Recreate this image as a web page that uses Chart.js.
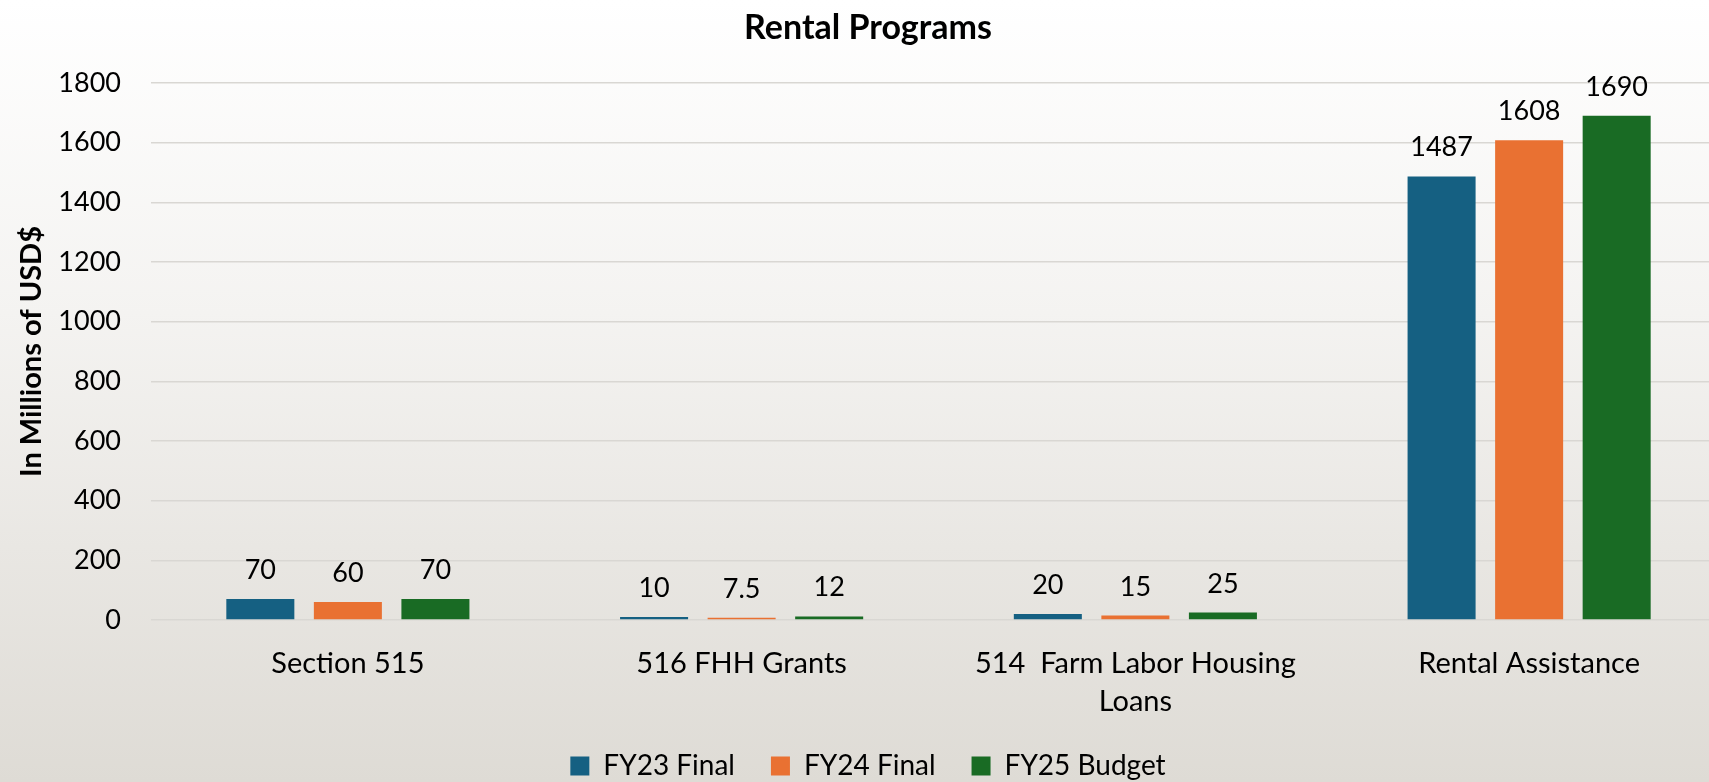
<!DOCTYPE html>
<html>
<head>
<meta charset="utf-8">
<script src="https://cdn.jsdelivr.net/npm/chart.js@4"></script>
<style>
  html, body { margin: 0; padding: 0; }
  body {
    width: 1709px;
    height: 782px;
    overflow: hidden;
    background: linear-gradient(to bottom, #ffffff 0%, #f4f3f1 40%, #dedbd5 100%);
  }
  canvas { display: block; }
</style>
</head>
<body>
<canvas id="myChart" width="1742" height="790"></canvas>
<script>
const categories = ['Section 515', '516 FHH Grants', ['514  Farm Labor Housing', 'Loans'], 'Rental Assistance'];
const fy23Final = [70, 10, 20, 1487];
const fy24Final = [60, 7.5, 15, 1608];
const fy25Budget = [70, 12, 25, 1690];
const yTicks = [0, 200, 400, 600, 800, 1000, 1200, 1400, 1600, 1800];

const FONT = 'Lato';

// value labels above each bar
const valueLabels = {
    id: 'valueLabels',
    afterDatasetsDraw(chart) {
        const ctx = chart.ctx;
        ctx.save();
        ctx.font = '27px ' + FONT;
        ctx.fillStyle = '#000';
        ctx.textAlign = 'center';
        ctx.textBaseline = 'alphabetic';
        chart.data.datasets.forEach((ds, i) => {
            chart.getDatasetMeta(i).data.forEach((bar, j) => {
                ctx.fillText(String(ds.data[j]), bar.x, bar.y - 20);
            });
        });
        ctx.restore();
    }
};

new Chart(document.getElementById('myChart'), {
    type: 'bar',
    data: {
        labels: categories,
        datasets: [
            { label: 'FY23 Final', data: fy23Final, backgroundColor: '#156082' },
            { label: 'FY24 Final', data: fy24Final, backgroundColor: '#E97132' },
            { label: 'FY25 Budget', data: fy25Budget, backgroundColor: '#196B24' }
        ]
    },
    options: {
        responsive: false,
        animation: false,
        devicePixelRatio: 1,
        categoryPercentage: 0.667,
        barPercentage: 0.777,
        layout: { padding: { left: 10, right: 16, top: 0, bottom: 0 } },
        scales: {
            x: {
                afterFit(scale) {
                    scale.height = 96;
                },
                grid: { display: false },
                border: { display: false },
                ticks: {
                    color: '#000',
                    padding: 17,
                    maxRotation: 0,
                    autoSkip: false,
                    font: { family: FONT, size: 29, lineHeight: 1.31 }
                }
            },
            y: {
                min: 0,
                max: 1800,
                afterBuildTicks(scale) {
                    scale.ticks = yTicks.map(v => ({ value: v }));
                },
                afterFit(scale) {
                    scale.width = 141;
                },
                grid: { color: '#d9d7d3', lineWidth: 1.5, drawTicks: false },
                border: { display: false },
                ticks: {
                    color: '#000',
                    padding: 30,
                    callback: v => String(v),
                    font: { family: FONT, size: 27 }
                },
                title: {
                    display: true,
                    text: 'In Millions of USD$',
                    color: '#000',
                    padding: { top: 4, bottom: 4 },
                    font: { family: FONT, size: 29, weight: 'bold' }
                }
            }
        },
        plugins: {
            title: {
                display: true,
                text: 'Rental Programs',
                color: '#000',
                padding: { top: 7.4, bottom: 34.8 },
                font: { family: FONT, size: 34, weight: 'bold' }
            },
            legend: {
                position: 'bottom',
                labels: {
                    color: '#000',
                    boxWidth: 19,
                    boxHeight: 19,
                    padding: 36,
                    font: { family: FONT, size: 28 }
                }
            },
            tooltip: { enabled: false }
        }
    },
    plugins: [valueLabels]
});
</script>
</body>
</html>
